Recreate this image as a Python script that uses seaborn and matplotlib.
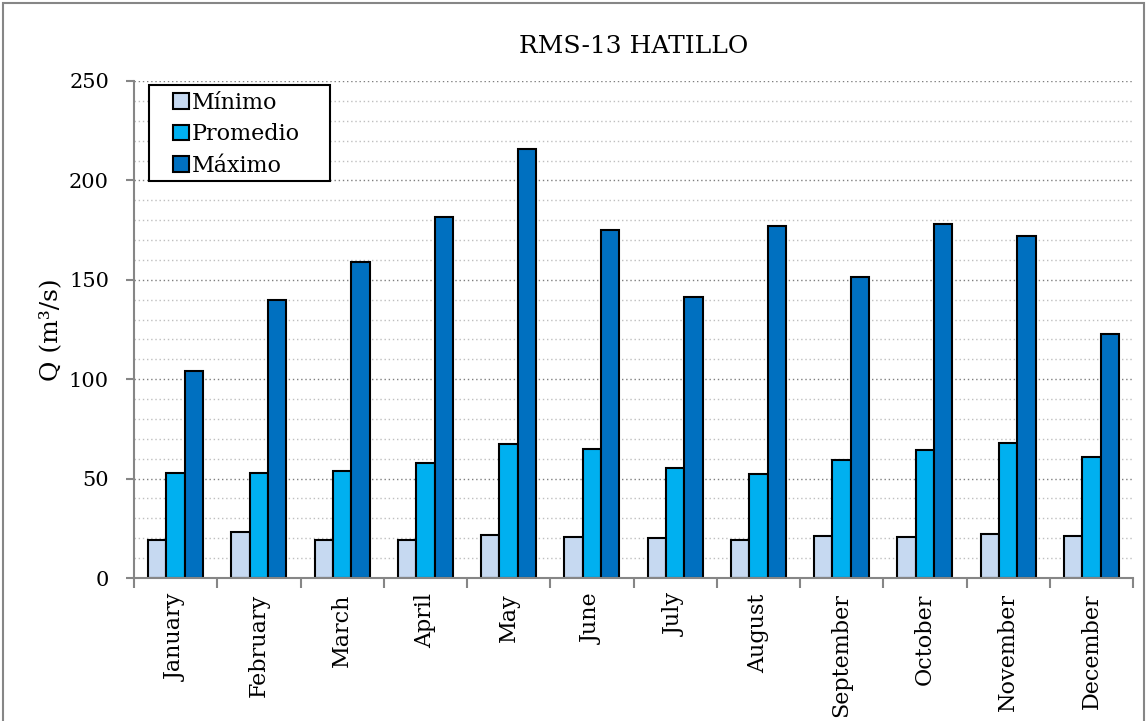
import numpy as np
import pandas as pd
import seaborn as sns
import matplotlib.pyplot as plt
from matplotlib.ticker import MultipleLocator, FixedLocator
from matplotlib.patches import Rectangle

# Monthly discharge statistics (m3/s)
months = ["January", "February", "March", "April", "May", "June", "July",
          "August", "September", "October", "November", "December"]
minimo = [19.1, 23.1, 19.0, 19.1, 21.8, 20.8, 20.0, 19.3, 21.3, 20.5, 22.3, 21.3]
promedio = [53.0, 52.7, 53.8, 58.0, 67.6, 65.0, 55.5, 52.5, 59.2, 64.2, 67.8, 61.0]
maximo = [104.1, 139.7, 159.1, 181.4, 215.6, 175.2, 141.2, 176.9, 151.3, 178.1, 172.2, 122.9]
series = ["Mínimo", "Promedio", "Máximo"]
colors = ["#C6D9F1", "#00B0F0", "#0070C0"]

df = pd.DataFrame({
    "Mes": months * 3,
    "Q": minimo + promedio + maximo,
    "Serie": [s for s in series for _ in months],
})

sns.set_style("white")
plt.rcParams["font.family"] = ["DejaVu Serif"]
plt.rcParams["text.color"] = "black"
plt.rcParams["axes.labelcolor"] = "black"

fig = plt.figure(figsize=(11.47, 7.21), dpi=100)
ax = fig.add_axes([134 / 1147, 1 - 578 / 721, 999 / 1147, 497 / 721])

sns.barplot(data=df, x="Mes", y="Q", hue="Serie", hue_order=series,
            palette=colors, saturation=1, width=0.66, gap=0,
            edgecolor="black", linewidth=1.5, ax=ax)

ax.set_xlim(-0.5, 11.5)
ax.set_ylim(0, 250)
ax.set_axisbelow(True)

# dotted horizontal grid every 10, darker every 50
ax.yaxis.set_major_locator(MultipleLocator(50))
ax.yaxis.set_minor_locator(MultipleLocator(10))
ax.grid(which="minor", axis="y", linestyle=(0, (1, 2)), color="#BFBFBF", lw=1)
ax.grid(which="major", axis="y", linestyle=(0, (1, 2)), color="#7F7F7F", lw=1)
ax.grid(axis="x", visible=False)

# category-boundary tick marks on x
ax.xaxis.set_minor_locator(FixedLocator(np.arange(-0.5, 12, 1)))
ax.tick_params(axis="x", which="major", length=0, labelsize=16, labelcolor="black",
               rotation=90, pad=11)
ax.tick_params(axis="x", which="minor", length=7, width=1.5, color="#868686",
               direction="out", bottom=True)
ax.tick_params(axis="y", which="major", length=6, width=1.5, color="#868686",
               direction="out", labelsize=15, labelcolor="black", pad=12, left=True)
ax.tick_params(axis="y", which="minor", length=0)

for side in ["top", "right"]:
    ax.spines[side].set_visible(False)
for side in ["left", "bottom"]:
    ax.spines[side].set_color("#868686")
    ax.spines[side].set_linewidth(1.5)

ax.set_xlabel("")
ax.set_ylabel("Q (m³/s)", fontsize=18, labelpad=5)
ax.set_title("RMS-13 HATILLO", fontsize=18, pad=20)

# legend box with generous inner margins
ax.add_patch(Rectangle((15 / 999, 397 / 497), 181 / 999, 96 / 497, transform=ax.transAxes,
                       facecolor="white", edgecolor="black", lw=1.5, zorder=4))
leg = ax.legend(loc="upper left", bbox_to_anchor=(39 / 999, 486 / 497), borderaxespad=0,
                frameon=False, fontsize=16, handlelength=0.7, handleheight=0.7,
                handletextpad=0.15, labelspacing=0.42, borderpad=0, title=None)
leg.set_zorder(5)

# outer chart border
fig.add_artist(Rectangle((0.003, -0.01), 0.994, 1.006, transform=fig.transFigure,
                         fill=False, edgecolor="#868686", lw=1.5))

fig.savefig("out.png", dpi=100, facecolor="white")
